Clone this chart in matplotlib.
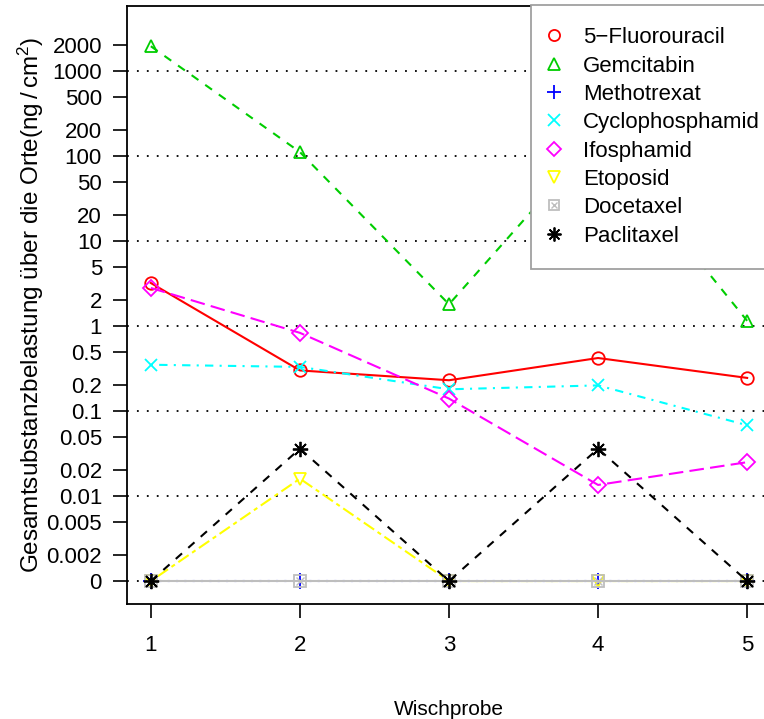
import numpy as np
import matplotlib
matplotlib.use("Agg")
import matplotlib.pyplot as plt
from matplotlib.lines import Line2D

plt.rcParams['font.family'] = ['Liberation Sans', 'DejaVu Sans']

# Daten (0 = nicht nachweisbar, wird bei 0.001 gezeichnet)
wischprobe = [1, 2, 3, 4, 5]
fluorouracil = [3.2, 0.30, 0.23, 0.42, 0.245]
gemcitabin = [1950, 111, 1.8, 170, 1.15]
methotrexat = [0, 0, 0, 0, 0]
cyclophosphamid = [0.35, 0.33, 0.18, 0.20, 0.068]
ifosphamid = [2.8, 0.83, 0.14, 0.0135, 0.025]
etoposid = [0, 0.016, 0, 0, 0]
docetaxel = [0, 0, 0, 0, 0]
paclitaxel = [0, 0.036, 0, 0.036, 0]

namen = ["5\u2212Fluorouracil", "Gemcitabin", "Methotrexat", "Cyclophosphamid",
         "Ifosphamid", "Etoposid", "Docetaxel", "Paclitaxel"]
yticks = [0.001, 0.002, 0.005, 0.01, 0.02, 0.05, 0.1, 0.2, 0.5, 1, 2, 5, 10, 20,
          50, 100, 200, 500, 1000, 2000]
ytick_labels = ["0", "0.002", "0.005", "0.01", "0.02", "0.05", "0.1", "0.2", "0.5",
                "1", "2", "5", "10", "20", "50", "100", "200", "500", "1000", "2000"]
gitter = [0.001, 0.01, 0.1, 1, 10, 100, 1000]

serien = [fluorouracil, gemcitabin, methotrexat, cyclophosphamid,
          ifosphamid, etoposid, docetaxel, paclitaxel]
farben = ["#FF0000", "#00CD00", "#0000FF", "#00FFFF", "#FF00FF", "#FFFF00", "#BEBEBE", "#000000"]
linien = ["-", (0, (4, 4)), (0, (1, 3)), (0, (1, 3, 4, 3)), (0, (7, 3)),
          (0, (2, 2, 6, 2)), "-", (0, (4, 4))]
marker = ["o", "^", "+", "x", "D", "v", "s", (8, 2, 0)]
msize = [9, 9, 11, 9, 8, 9, 8, 11]

fig = plt.figure(figsize=(7.64, 7.19), dpi=100)
ax = fig.add_axes([127 / 764, 1 - 604 / 719, 644 / 764, 598 / 719])

for g in gitter:
    ax.axhline(g, color="black", lw=1.3, ls=(0, (1, 4.5)), zorder=1)

for i, werte in enumerate(serien):
    y = np.where(np.array(werte) == 0, 0.001, werte)
    ax.plot(wischprobe, y, color=farben[i], ls=linien[i], lw=1.5, zorder=2 + i)
    ax.plot(wischprobe, y, color=farben[i], ls="none", marker=marker[i],
            ms=msize[i], mfc="none", mew=1.3, zorder=2 + i)
    if namen[i] == "Docetaxel":
        ax.plot(wischprobe, y, color=farben[i], ls="none", marker="x",
                ms=6, mew=1.0, zorder=2 + i)

ax.set_yscale("log")
ax.set_ylim(0.000537, 5800)
ax.set_xlim(0.84, 5.16)
ax.set_yticks(yticks)
ax.set_yticklabels(ytick_labels)
ax.minorticks_off()
ax.set_xticks(wischprobe)
ax.tick_params(labelsize=16, length=10, width=1.2, direction="out")
ax.tick_params(axis="x", pad=12)
ax.tick_params(axis="y", pad=8)
for s in ax.spines.values():
    s.set_linewidth(1.3)

ax.set_xlabel("Wischprobe", fontsize=15, labelpad=32)
ax.set_ylabel(r"Gesamtsubstanzbelastung über die Orte($\mathregular{ng\,/\,cm^2}$)", fontsize=17.5)
ax.yaxis.set_label_coords(-0.125, 0.5)

handles = []
for i in range(len(namen)):
    h = Line2D([], [], ls="none", marker=marker[i], color=farben[i], ms=msize[i] - 1,
               mfc="none", mew=1.3)
    if namen[i] == "Docetaxel":
        h2 = Line2D([], [], ls="none", marker="x", color=farben[i], ms=5, mew=1.0)
        h = (h, h2)
    handles.append(h)

leg = fig.legend(handles, namen, loc="upper left", bbox_to_anchor=(531 / 764, 1 - 5 / 719),
                 fontsize=16, frameon=True, fancybox=False, framealpha=1,
                 edgecolor="#A0A0A0", handlelength=0.1, handletextpad=1.25,
                 labelspacing=0.33, borderpad=1.0, borderaxespad=0)
leg.get_frame().set_linewidth(1.3)
leg.set_zorder(20)

fig.savefig("out.png", dpi=100)
